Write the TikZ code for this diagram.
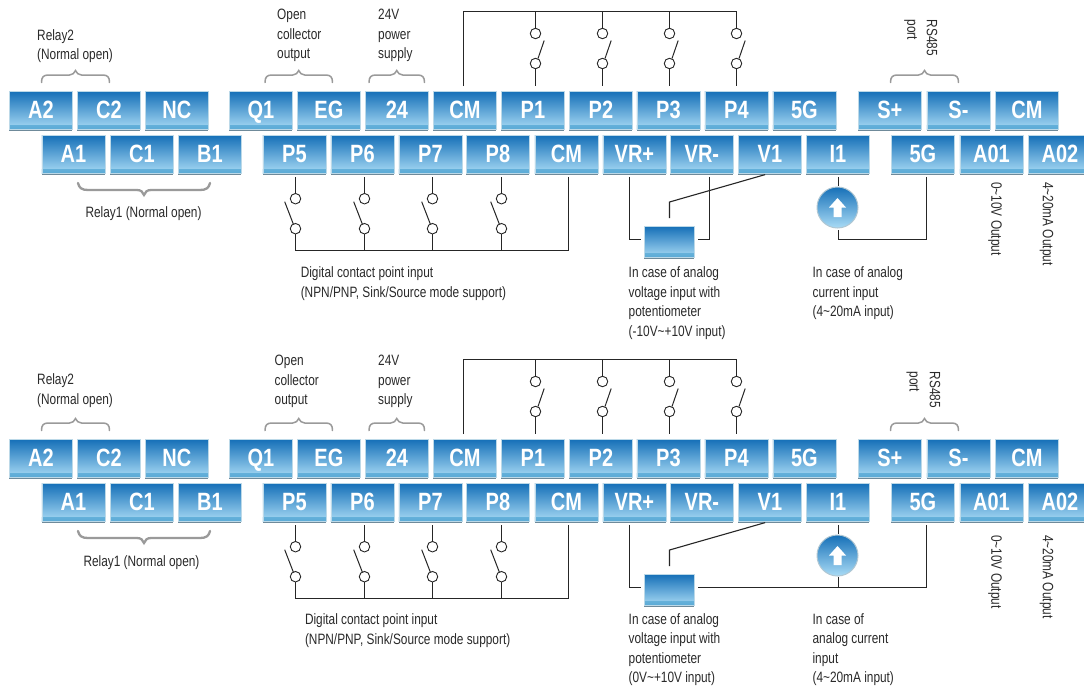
\documentclass[tikz,border=0pt]{standalone}
\usepackage{fontspec}
\setmainfont{Liberation Sans}
\newfontfamily\dinfont[FakeStretch=0.79]{Liberation Sans}
\newfontfamily\keyfont[FakeStretch=0.8]{Liberation Sans}
\definecolor{keytop}{HTML}{1670B8}
\definecolor{keymid}{HTML}{559FD8}
\definecolor{keybot}{HTML}{A9DBF5}
\definecolor{keystrip}{HTML}{5AAAD6}
\definecolor{keyrim}{HTML}{BCD9E8}
\definecolor{keyedge}{HTML}{6F8A9A}
\definecolor{bracegray}{HTML}{9A9A9A}
\definecolor{inkc}{HTML}{2A2A2A}
\tikzset{
  keyface/.style={anchor=north west,minimum width=63pt,minimum height=38pt,inner sep=0pt,
    draw=keyrim,line width=.8pt,top color=keytop,middle color=keymid,bottom color=keybot,
    preaction={draw=none,fill=keyedge,transform canvas={yshift=-1.4pt}},
    path picture={\shade[top color=keybot,bottom color=keystrip] (path picture bounding box.south west) rectangle ([yshift=4pt]path picture bounding box.south east);},
    text height=17pt,text depth=0pt,
    text=white,font={\keyfont\bfseries\fontsize{25}{26}\selectfont}},
  wire/.style={draw=black!85,line width=1.1pt},
  blade/.style={draw=black!85,line width=1pt},
  contact/.style={circle,draw=black!85,line width=.9pt,fill=white,minimum size=10.5pt,inner sep=0pt},
  curly/.style={draw=bracegray,line width=1.5pt,line cap=round},
  curlyheavy/.style={draw=bracegray,line width=2.3pt,line cap=round},
  note/.style={inner sep=0pt,align=left,anchor=west,text=inkc,font={\dinfont\fontsize{15}{19.5}\selectfont}},
  vnote/.style={inner sep=0pt,anchor=west,rotate=-90,text=inkc,font={\dinfont\fontsize{15}{19.5}\selectfont}},
}
\newcommand\tkey[4]{\node[keyface] (#1) at (#2,#3) {#4};}
\newcommand\curlyup[3]{% x1,x2,dy
  \pgfmathsetmacro\midx{(#1+#2)/2}
  \draw[curly] (#1,82.5) .. controls (#1,77) and (#1+2,75) .. (#1+7,75) -- (\midx-6,75)
     .. controls (\midx-3,75) and (\midx-1,73) .. (\midx,70.5)
     .. controls (\midx+1,73) and (\midx+3,75) .. (\midx+6,75) -- (#2-7,75)
     .. controls (#2-2,75) and (#2,77) .. (#2,82.5);}
\newcommand\upperswitch[3]{% name, x, key
  \node[contact] (#1u) at (#2,33.5) {};
  \node[contact] (#1d) at (#2,63.5) {};
  \draw[wire] (#1u) -- (#1u |- 0,11.5);
  \draw[wire,shorten >=5pt] (#1d) -- (#1d |- #3.north);
  \draw[blade] (#2+2.5,58.5) -- (#2+8.7,40.5);}
\newcommand\lowerswitch[3]{% name, x, key
  \node[contact] (#1u) at (#2,198.7) {};
  \node[contact] (#1d) at (#2,228.7) {};
  \draw[wire,shorten >=3pt] (#1u) -- (#1u |- #3.south);
  \draw[wire] (#1d) -- (#1d |- 0,250.5);
  \draw[blade] (#2-10.8,201.7) -- (#2-2.2,224);}
\newcommand\keysandwires{%
  \tkey{A2}{9}{91}{A2}\tkey{C2}{77}{91}{C2}\tkey{NC}{145}{91}{NC}
  \tkey{Q1}{229}{91}{Q1}\tkey{EG}{297}{91}{EG}\tkey{T24}{365}{91}{24}\tkey{CMa}{433}{91}{CM}
  \tkey{P1}{501}{91}{P1}\tkey{P2}{569}{91}{P2}\tkey{P3}{636.5}{91}{P3}\tkey{P4}{704.5}{91}{P4}
  \tkey{Ga}{772.5}{91}{5G}\tkey{Sp}{858}{91}{S+}\tkey{Sm}{926.5}{91}{S-}\tkey{CMc}{995}{91}{CM}
  \tkey{A1}{41.5}{135}{A1}\tkey{C1}{110}{135}{C1}\tkey{B1}{178}{135}{B1}
  \tkey{P5}{262.5}{135}{P5}\tkey{P6}{330.5}{135}{P6}\tkey{P7}{398.5}{135}{P7}\tkey{P8}{466}{135}{P8}
  \tkey{CMb}{534.5}{135}{CM}\tkey{VRp}{602.5}{135}{VR+}\tkey{VRm}{670}{135}{VR-}\tkey{V1}{738}{135}{V1}
  \tkey{I1}{806}{135}{I1}\tkey{Gb}{891}{135}{5G}\tkey{AOa}{959.5}{135}{A01}\tkey{AOb}{1028}{135}{A02}
  \curlyup{41.5}{109.5}{0}\curlyup{265}{332.5}{0}\curlyup{369}{424.5}{0}\curlyup{890.5}{958.5}{0}
  \draw[curlyheavy] (78,183) .. controls (79,188) and (82,190) .. (88,190) -- (137,190)
     .. controls (141,190) and (143,192) .. (144,195) .. controls (145,192) and (147,190) .. (151,190)
     -- (200,190) .. controls (206,190) and (209,188) .. (210,183);
  \upperswitch{sa}{535.5}{P1}\upperswitch{sb}{602.5}{P2}\upperswitch{sc}{669.5}{P3}\upperswitch{sd}{736.5}{P4}
  \draw[wire,shorten <=5pt] (CMa.north -| 463.5,0) -- (463.5,11.5) -- (736.5,11.5);
  \lowerswitch{se}{295.5}{P5}\lowerswitch{sf}{364.5}{P6}\lowerswitch{sg}{432.5}{P7}\lowerswitch{sh}{501.5}{P8}
  \draw[wire,shorten <=3pt] (CMb.south -| 568.5,0) -- (568.5,250.5) -- (295.5,250.5);
  \node[keyface,minimum width=50pt,minimum height=31pt,anchor=north west] (pot) at (644,226) {};
  \draw[wire,shorten <=3pt] (V1.south -| 768,0) -- (669.5,202) -- (669.5,218);
  \node[circle,minimum size=41pt,inner sep=0pt,top color=keytop,bottom color=keybot,draw=keyrim!80!gray,line width=1pt] (amp) at (837.5,207.5) {};
  \fill[white] (837.5,198) -- (846,207.5) -- (841.5,207.5) -- (841.5,217) -- (833.5,217) -- (833.5,207.5) -- (829,207.5) -- cycle;
  \draw[wire,shorten <=3pt,shorten >=1.5pt] (I1.south -| 838.5,0) -- (838.5,187);
}
\begin{document}
\begin{tikzpicture}[x=1pt,y=-1pt]
\clip (0,0) rectangle (1084,688);
\fill[white] (0,0) rectangle (1084,688);
\begin{scope}[name prefix=a-]
  \keysandwires
  \draw[wire,shorten <=3pt] (VRp.south -| 629.5,0) -- (629.5,239.5) -- (640.5,239.5);
  \draw[wire,shorten <=3pt] (VRm.south -| 709.5,0) -- (709.5,239.5) -- (698,239.5);
  \draw[wire,shorten <=3pt] (Gb.south -| 926.5,0) -- (926.5,239.5) -- (838.5,239.5) -- (838.5,230);
  \node[note] (ra) at (37,46) {Relay2\\(Normal open)};
  \node[note] (oc) at (277,35.5) {Open\\collector\\output};
  \node[note] (ps) at (378,35.5) {24V\\power\\supply};
  \node[note] (rb) at (85.4,214) {Relay1 (Normal open)};
  \node[note] (dg) at (300.6,283.5) {Digital contact point input\\(NPN/PNP, Sink/Source mode support)};
  \node[note] (av) at (628.5,303) {In case of analog\\voltage input with\\potentiometer\\(-10V\textasciitilde+10V input)};
  \node[note] (ac) at (812.4,293.5) {In case of analog\\current input\\(4\textasciitilde20mA input)};
  \node[vnote] (rs) at (932,19.5) {RS485};
  \node[vnote] (pt) at (910.6,19.5) {port};
  \node[vnote] (ov) at (995,182) {0\textasciitilde10V Output};
  \node[vnote] (oa) at (1046.6,182) {4\textasciitilde20mA Output};
\end{scope}
\begin{scope}[name prefix=b-,shift={(0,348)}]
  \keysandwires
  \draw[wire,shorten <=3pt] (VRp.south -| 629.5,0) -- (629.5,239.5) -- (640.5,239.5);
  \draw[wire,shorten <=3pt] (Gb.south -| 926.5,0) -- (926.5,239.5) -- (698,239.5);
  \draw[wire] (amp.south -| 838.5,0) -- (838.5,239.5);
  \node[note] (ra) at (37,42.5) {Relay2\\(Normal open)};
  \node[note] (oc) at (274.5,33.5) {Open\\collector\\output};
  \node[note] (ps) at (378,33.5) {24V\\power\\supply};
  \node[note] (rb) at (83.3,215) {Relay1 (Normal open)};
  \node[note] (dg) at (304.8,282.5) {Digital contact point input\\(NPN/PNP, Sink/Source mode support)};
  \node[note] (av) at (628.5,301.5) {In case of analog\\voltage input with\\potentiometer\\(0V\textasciitilde+10V input)};
  \node[note] (ac) at (812.4,301.5) {In case of\\analog current\\input\\(4\textasciitilde20mA input)};
  \node[vnote] (rs) at (935,23.5) {RS485};
  \node[vnote] (pt) at (913,23.5) {port};
  \node[vnote] (ov) at (995,187) {0\textasciitilde10V Output};
  \node[vnote] (oa) at (1046.6,187) {4\textasciitilde20mA Output};
\end{scope}
\end{tikzpicture}
\end{document}
